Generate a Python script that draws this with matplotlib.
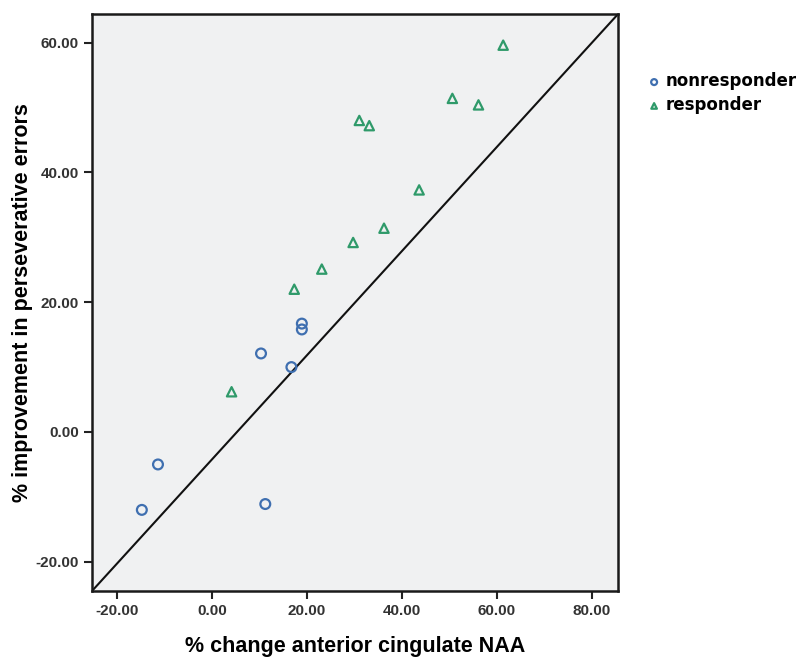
import numpy as np
import matplotlib
matplotlib.use("Agg")
import matplotlib.pyplot as plt

# nonresponders (circles)
non_x = [-14.8, -11.4, 11.2, 10.3, 16.7, 18.9, 18.9]
non_y = [-12.0, -5.0, -11.1, 12.1, 10.0, 16.7, 15.8]

# responders (triangles)
resp_x = [4.1, 17.3, 23.1, 29.7, 36.2, 43.6, 31.0, 33.1, 50.6, 56.1, 61.3]
resp_y = [6.2, 22.0, 25.1, 29.2, 31.4, 37.3, 48.0, 47.2, 51.4, 50.4, 59.6]

xticks = [-20, 0, 20, 40, 60, 80]
yticks = [-20, 0, 20, 40, 60]

fig = plt.figure(figsize=(8.09, 6.58), dpi=100)
ax = fig.add_axes([0.1137, 0.1018, 0.6503, 0.8769])
ax.set_facecolor("#f0f1f2")

ax.scatter(non_x, non_y, marker="o", s=50, facecolors="none",
           edgecolors="#3f6fb0", linewidths=1.6, label="nonresponder", zorder=3)
ax.scatter(resp_x, resp_y, marker="^", s=45, facecolors="none",
           edgecolors="#2f9a6a", linewidths=1.6, label="responder", zorder=3)

# reference line corner to corner
ax.plot([0, 1], [0, 1], transform=ax.transAxes, color="#111111", lw=1.5, zorder=2)

ax.set_xlim(-25.3, 85.5)
ax.set_ylim(-24.5, 64.4)
ax.set_xticks(xticks)
ax.set_yticks(yticks)
ax.set_xticklabels(["%.2f" % t for t in xticks])
ax.set_yticklabels(["%.2f" % t for t in yticks])
ax.tick_params(direction="out", length=6, width=1.5, colors="#222222",
               labelsize=11, top=False, right=False)
for lab in ax.get_xticklabels() + ax.get_yticklabels():
    lab.set_fontfamily("Liberation Sans")
    lab.set_fontweight("bold")
    lab.set_color("#333333")
for sp in ax.spines.values():
    sp.set_linewidth(1.8)
    sp.set_color("#1a1a1a")

ax.set_xlabel("% change anterior cingulate NAA", fontsize=15.5, fontweight="bold",
              fontfamily="Liberation Sans", labelpad=13)
ax.set_ylabel("% improvement in perseverative errors", fontsize=15.5, fontweight="bold",
              fontfamily="Liberation Sans")
ax.yaxis.set_label_coords(-0.112, 0.5)

fig.legend(loc="upper left", bbox_to_anchor=(0.79, 0.90), frameon=False,
           prop={"family": "DejaVu Sans", "weight": "bold", "size": 12},
           handletextpad=0.2, labelspacing=0.35, handlelength=1.0, markerscale=0.6,
           borderaxespad=0)

fig.savefig("out.png", dpi=100)
